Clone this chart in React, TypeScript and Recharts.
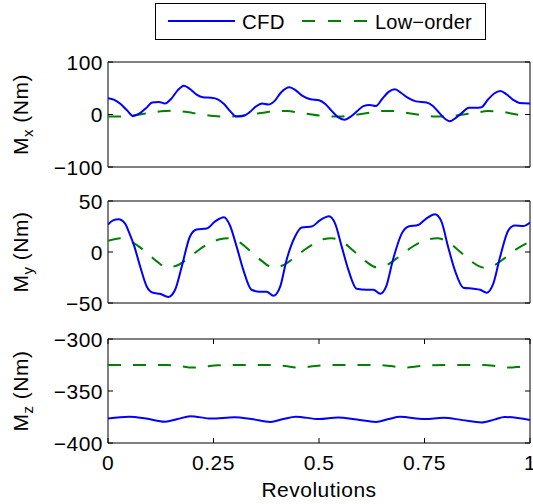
import React from 'react';
import { LineChart, Line, XAxis, YAxis, ReferenceArea } from 'recharts';

// ---------- data ----------
const xTicks = [0, 0.25, 0.5, 0.75, 1];
const xTickLabels = ['0', '0.25', '0.5', '0.75', '1'];

const mxTicks = [-100, 0, 100];
const myTicks = [-50, 0, 50];
const mzTicks = [-400, -350, -300];

const mxCfd: [number, number][] = [
  [0, 31], [0.015, 28], [0.03, 20], [0.045, 8], [0.06, -3], [0.075, 2], [0.09, 12], [0.105, 23],
  [0.12, 24], [0.135, 21], [0.15, 30], [0.165, 46], [0.18, 55], [0.195, 48], [0.21, 38], [0.225, 33],
  [0.245, 32], [0.26, 29], [0.275, 20], [0.29, 6], [0.305, -4], [0.32, -3], [0.335, 4], [0.35, 15],
  [0.365, 21], [0.38, 19], [0.395, 26], [0.41, 42], [0.43, 52], [0.445, 46], [0.46, 36], [0.48, 29],
  [0.5, 27], [0.515, 20], [0.53, 7], [0.545, -5], [0.56, -10], [0.575, -4], [0.59, 6], [0.605, 16],
  [0.62, 18], [0.635, 16], [0.65, 30], [0.665, 43], [0.68, 48], [0.695, 41], [0.71, 32], [0.73, 25],
  [0.755, 23], [0.77, 16], [0.785, 3], [0.8, -9], [0.81, -13], [0.825, -6], [0.84, 4], [0.855, 13],
  [0.87, 13], [0.885, 14], [0.9, 28], [0.915, 40], [0.93, 45], [0.945, 38], [0.96, 28], [0.975, 22],
  [1, 21],
];
const mxLow: [number, number][] = [
  [0, -4], [0.025, -4], [0.05, -2.5], [0.075, 0], [0.1, 3], [0.125, 6], [0.15, 7], [0.175, 6],
  [0.2, 3], [0.225, 0], [0.25, -3], [0.275, -4], [0.3, -3.5], [0.325, -1.5], [0.35, 1.5], [0.375, 4.5],
  [0.4, 7], [0.425, 6.5], [0.45, 4], [0.475, 1], [0.5, -2], [0.525, -4], [0.55, -4], [0.575, -2],
  [0.6, 1], [0.625, 4], [0.65, 6.5], [0.675, 6.5], [0.7, 4], [0.725, 1], [0.75, -2], [0.775, -4],
  [0.8, -4], [0.825, -2], [0.85, 1], [0.875, 4], [0.9, 6.5], [0.925, 6], [0.95, 3], [0.975, -1],
  [1, -4],
];

const myCfd: [number, number][] = [
  [0, 27], [0.012, 31], [0.025, 32], [0.04, 28], [0.052, 17], [0.062, 6], [0.076, -14], [0.092, -34],
  [0.107, -40], [0.123, -41], [0.143, -44], [0.159, -37], [0.175, -14], [0.194, 15], [0.21, 22],
  [0.234, 23], [0.254, 30], [0.275, 34], [0.289, 26], [0.305, 5], [0.321, -18], [0.34, -37],
  [0.36, -39], [0.376, -39], [0.392, -43], [0.408, -34], [0.423, -8], [0.443, 15], [0.459, 24],
  [0.483, 25], [0.502, 31], [0.524, 35], [0.538, 28], [0.554, 5], [0.57, -18], [0.589, -36],
  [0.613, -37], [0.629, -37], [0.645, -41], [0.659, -34], [0.675, -8], [0.696, 18], [0.712, 25],
  [0.735, 26.5], [0.755, 33], [0.775, 37], [0.79, 30], [0.806, 5], [0.822, -18], [0.842, -35],
  [0.866, -36], [0.882, -37], [0.897, -40], [0.913, -31], [0.929, -5], [0.949, 21.5], [0.964, 26],
  [0.984, 25.5], [1, 29],
];
const myLow: [number, number][] = [
  [0, 11], [0.03, 13.5], [0.06, 9], [0.09, 0], [0.115, -9], [0.14, -15], [0.165, -13], [0.19, -6],
  [0.215, 2], [0.24, 8.5], [0.265, 12.5], [0.285, 13.5], [0.31, 10], [0.34, 0], [0.365, -9],
  [0.392, -15.5], [0.415, -13], [0.44, -6], [0.465, 2], [0.49, 8.5], [0.51, 12.5], [0.53, 13.5],
  [0.555, 10], [0.585, 0], [0.61, -9], [0.637, -15], [0.66, -13], [0.685, -6], [0.71, 2],
  [0.735, 8.5], [0.76, 12.5], [0.78, 13.5], [0.805, 10], [0.835, 0], [0.86, -9], [0.893, -15.5],
  [0.915, -13], [0.94, -6], [0.965, 2], [0.985, 7], [1, 10],
];

const mzCfd: [number, number][] = [
  [0, -376.5], [0.05, -374.8], [0.09, -376.5], [0.135, -379.5], [0.165, -377], [0.195, -374.2],
  [0.245, -376.5], [0.3, -375.3], [0.34, -377], [0.385, -379.7], [0.415, -377], [0.445, -374.7],
  [0.5, -377], [0.545, -375.4], [0.59, -377.5], [0.635, -379.8], [0.665, -377], [0.692, -374.8],
  [0.75, -377], [0.795, -375.7], [0.84, -378], [0.885, -380.2], [0.915, -377.5], [0.94, -375],
  [1, -377.8],
];
const mzLow: [number, number][] = [
  [0, -325], [0.05, -325], [0.1, -325], [0.14, -325], [0.17, -326], [0.2, -327.5], [0.23, -326.5],
  [0.26, -325.3], [0.3, -325], [0.35, -325], [0.39, -325], [0.42, -326], [0.45, -327.5],
  [0.48, -326.5], [0.51, -325.3], [0.55, -325], [0.6, -325], [0.64, -325], [0.67, -326],
  [0.7, -327.5], [0.73, -326.5], [0.76, -325.3], [0.8, -325], [0.85, -325], [0.89, -325],
  [0.92, -326], [0.95, -327.5], [0.98, -326.5], [1, -326],
];

const toRows = (pairs: [number, number][]) => pairs.map(([t, v]) => ({ t, v }));

// ---------- styling ----------
const FONT = '"Liberation Sans", Arial, Helvetica, sans-serif';
const FS = 21;
const LS = 0.5;
const BLUE = '#0000FF';
const GREEN = '#008000';
const PLOT_W = 422;

const fmtNum = (v: number) => (v < 0 ? '\u2212' + String(-v) : String(v));

const makeYTick = () => (props: any) => {
  const { x, y, payload } = props;
  return (
    <g>
      <line x1={x} y1={y} x2={x + 5} y2={y} stroke="#000" />
      <line x1={x + PLOT_W} y1={y} x2={x + PLOT_W - 5} y2={y} stroke="#000" />
      <text x={x - 5} y={y + 7.5} textAnchor="end" fontSize={FS} letterSpacing={LS} fontFamily={FONT} fill="#000">
        {fmtNum(payload.value)}
      </text>
    </g>
  );
};

const makeXTick = (plotH: number, showLabel: boolean) => (props: any) => {
  const { x, y, payload } = props;
  const i = xTicks.indexOf(payload.value);
  return (
    <g>
      <line x1={x} y1={y} x2={x} y2={y - 5} stroke="#000" />
      <line x1={x} y1={y - plotH} x2={x} y2={y - plotH + 5} stroke="#000" />
      {showLabel && (
        <text x={x} y={y + 27} textAnchor="middle" fontSize={FS} letterSpacing={LS} fontFamily={FONT} fill="#000">
          {xTickLabels[i]}
        </text>
      )}
    </g>
  );
};

const YLabel = (props: any) => {
  const { viewBox, sub } = props;
  const cy = viewBox.y + viewBox.height / 2;
  return (
    <text
      transform={`translate(28, ${cy}) rotate(-90)`}
      textAnchor="middle"
      fontSize={FS}
      letterSpacing={LS}
      fontFamily={FONT}
      fill="#000"
    >
      <tspan>M</tspan>
      <tspan dy={5} fontSize={15}>{sub}</tspan>
      <tspan dy={-5}>{' (Nm)'}</tspan>
    </text>
  );
};

const XLabel = (props: any) => {
  const { viewBox } = props;
  return (
    <text
      x={viewBox.x + viewBox.width / 2}
      y={viewBox.y + 54}
      textAnchor="middle"
      fontSize={FS}
      letterSpacing={LS}
      fontFamily={FONT}
      fill="#000"
    >
      Revolutions
    </text>
  );
};

type PanelProps = {
  top: number;
  height: number;
  marginTop: number;
  plotH: number;
  domain: [number, number];
  yTicks: number[];
  cfd: [number, number][];
  low: [number, number][];
  sub: string;
  bottom: boolean;
};

const Panel = ({ top, height, marginTop, plotH, domain, yTicks, cfd, low, sub, bottom }: PanelProps) => {
  const xAxisH = bottom ? 60 : 0;
  const marginBottom = height - marginTop - plotH - xAxisH;
  return (
    <div style={{ position: 'absolute', left: 0, top, width: 533, height }}>
      <LineChart
        width={533}
        height={height}
        margin={{ top: marginTop, right: 3, bottom: marginBottom, left: 0 }}
        style={{ overflow: 'visible' }}
      >
        <XAxis
          dataKey="t"
          type="number"
          domain={[0, 1]}
          ticks={xTicks}
          allowDataOverflow
          axisLine={false}
          tickLine={false}
          tickSize={0}
          tickMargin={0}
          height={xAxisH}
          interval={0}
          tick={makeXTick(plotH, bottom)}
          label={bottom ? <XLabel /> : undefined}
        />
        <YAxis
          type="number"
          domain={domain}
          ticks={yTicks}
          allowDataOverflow
          axisLine={false}
          tickLine={false}
          tickSize={0}
          tickMargin={0}
          width={108}
          interval={0}
          tick={makeYTick()}
          label={<YLabel sub={sub} />}
        />
        <ReferenceArea
          x1={0}
          x2={1}
          y1={domain[0]}
          y2={domain[1]}
          fill="none"
          fillOpacity={0}
          stroke="#000"
          strokeWidth={1}
          strokeOpacity={1}
          ifOverflow="visible"
        />
        <Line
          data={toRows(low)}
          dataKey="v"
          type="monotone"
          stroke={GREEN}
          strokeWidth={2}
          strokeDasharray="13 12"
          dot={false}
          activeDot={false}
          isAnimationActive={false}
        />
        <Line
          data={toRows(cfd)}
          dataKey="v"
          type="monotone"
          stroke={BLUE}
          strokeWidth={2}
          dot={false}
          activeDot={false}
          isAnimationActive={false}
        />
      </LineChart>
    </div>
  );
};

const LegendBox = () => (
  <svg
    width={533}
    height={50}
    style={{ position: 'absolute', left: 0, top: 0, overflow: 'visible' }}
  >
    <rect x={155.5} y={3.5} width={330} height={36} fill="#fff" stroke="#000" strokeWidth={1} />
    <line x1={168} y1={21} x2={235} y2={21} stroke={BLUE} strokeWidth={2} />
    <text x={242} y={29} fontSize={20.5} letterSpacing={0.2} fontFamily={FONT} fill="#000">CFD</text>
    <line x1={302} y1={21} x2={368} y2={21} stroke={GREEN} strokeWidth={2} strokeDasharray="13 13" />
    <text x={375} y={29} fontSize={20} letterSpacing={0.2} fontFamily={FONT} fill="#000">Low{'\u2212'}order</text>
  </svg>
);

export default function App() {
  return (
    <div style={{ position: 'absolute', left: 0, top: 0, width: 533, height: 504, background: '#fff' }}>
      <Panel top={50} height={130} marginTop={12} plotH={105} domain={[-100, 100]} yTicks={mxTicks}
        cfd={mxCfd} low={mxLow} sub="x" bottom={false} />
      <Panel top={189} height={126} marginTop={12} plotH={102} domain={[-50, 50]} yTicks={myTicks}
        cfd={myCfd} low={myLow} sub="y" bottom={false} />
      <Panel top={327} height={177} marginTop={12} plotH={104} domain={[-400, -300]} yTicks={mzTicks}
        cfd={mzCfd} low={mzLow} sub="z" bottom={true} />
      <LegendBox />
    </div>
  );
}
